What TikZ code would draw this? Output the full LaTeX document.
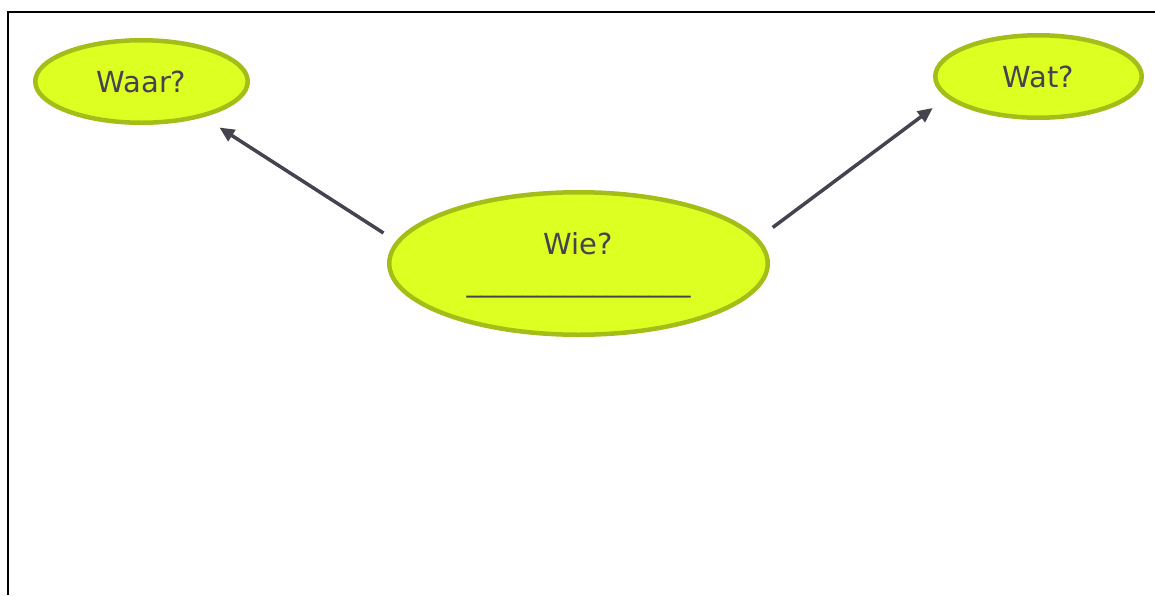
\documentclass[tikz,border=0pt]{standalone}
\usepackage{fontspec}
\setmainfont{DejaVu Sans}
\usetikzlibrary{arrows.meta,shapes.geometric}
\definecolor{bubblefill}{HTML}{DDFF22}
\definecolor{bubbleline}{HTML}{A5BD18}
\definecolor{ink}{HTML}{45434E}
\begin{document}
\begin{tikzpicture}[x=1pt,y=-1pt,
  bubble/.style={ellipse,draw=bubbleline,fill=bubblefill,line width=4.5pt,inner sep=0pt,
    text=ink,font=\fontsize{29}{37}\selectfont,align=center},
  conn/.style={draw=ink,line width=3.5pt,-{Triangle[length=15pt,width=13pt]}}]
\useasboundingbox (0,0) rectangle (1155,595);
\draw[line width=2pt] (8,595) -- (8,12) -- (1155,12);
\node[bubble,minimum width=212.5pt,minimum height=82.5pt] (waar) at (141.5,81.5) {Waar?};
\node[bubble,minimum width=206.5pt,minimum height=82.5pt] (wat) at (1038.5,76.5) {Wat?};
\node[bubble,minimum width=378.5pt,minimum height=142.5pt] (wie) at (578.5,263.5) {\rule{0pt}{26pt}Wie?\\{\fontsize{28}{37}\selectfont\_\_\_\_\_\_\_\_\_\_\_\_\_\_\_\_}};
\draw[conn,shorten <=15pt,shorten >=19pt] (wie.173) -- (waar.-30);
\draw[conn,shorten <=18pt,shorten >=17pt] (wie.8) -- (wat.193);
\end{tikzpicture}
\end{document}
